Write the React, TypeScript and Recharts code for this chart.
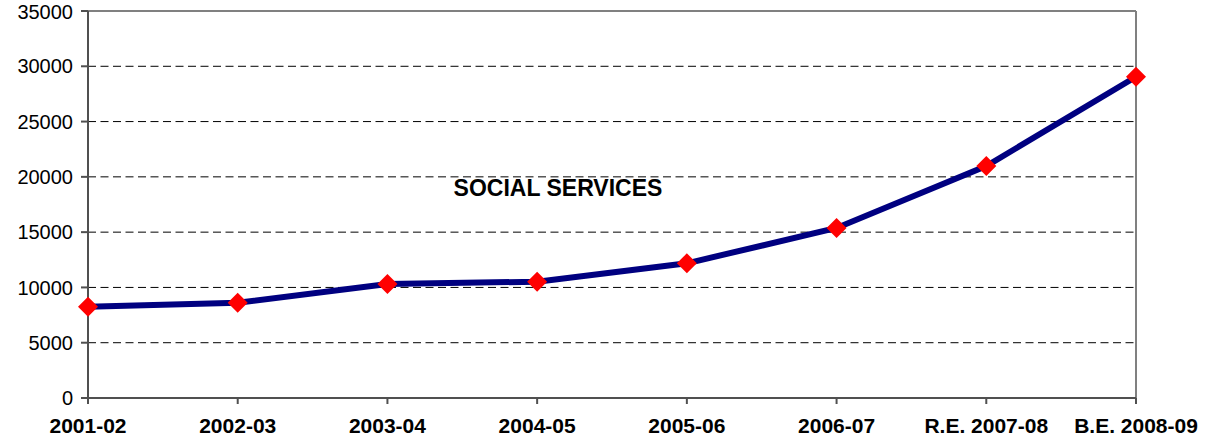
import { CartesianGrid, Line, LineChart, ReferenceLine, XAxis, YAxis } from "recharts"

const years = ["2001-02", "2002-03", "2003-04", "2004-05", "2005-06", "2006-07", "R.E. 2007-08", "B.E. 2008-09"]
const socialServices = [8250, 8620, 10310, 10520, 12180, 15380, 20980, 29050]
const yTicks = [0, 5000, 10000, 15000, 20000, 25000, 30000, 35000]

const data = years.map((year, i) => ({ year, value: socialServices[i] }))

function Diamond(props: any) {
    const { cx, cy } = props
    if (cx == null || cy == null) return null
    const r = 10
    return (
        <polygon
            points={`${cx},${cy - r} ${cx + r},${cy} ${cx},${cy + r} ${cx - r},${cy}`}
            fill="#ff0000"
        />
    )
}

export default function App() {
    return (
        <div style={{ position: "absolute", left: 0, top: 0, width: 1208, height: 445, background: "#fff", fontFamily: "Arial, 'Liberation Sans', sans-serif" }}>
            <LineChart width={1208} height={445} data={data} margin={{ top: 11, right: 72, bottom: 0, left: 0 }}>
                <CartesianGrid vertical={false} stroke="#000" strokeDasharray="8 4.5" />
                <ReferenceLine y={35000} stroke="#808080" strokeWidth={2} />
                <ReferenceLine x="B.E. 2008-09" stroke="#808080" strokeWidth={2} />
                <XAxis
                    dataKey="year"
                    height={47}
                    stroke="#505050"
                    strokeWidth={2}
                    tickSize={6}
                    tickMargin={14}
                    interval={0}
                    tick={{ fill: "#000", fontSize: 21, fontWeight: "bold", fontFamily: "Arial, 'Liberation Sans', sans-serif" }}
                />
                <YAxis
                    width={88}
                    domain={[0, 35000]}
                    ticks={yTicks}
                    stroke="#505050"
                    strokeWidth={2}
                    tickSize={7}
                    tickMargin={8}
                    tick={{ fill: "#000", fontSize: 20, fontFamily: "Arial, 'Liberation Sans', sans-serif" }}
                />
                <Line
                    type="linear"
                    dataKey="value"
                    stroke="#000080"
                    strokeWidth={6}
                    dot={<Diamond />}
                    activeDot={false}
                    isAnimationActive={false}
                />
            </LineChart>
            <div style={{ position: "absolute", left: 358, width: 400, top: 175, textAlign: "center", fontSize: 23, fontWeight: "bold", lineHeight: "27px" }}>
                SOCIAL SERVICES
            </div>
        </div>
    )
}
